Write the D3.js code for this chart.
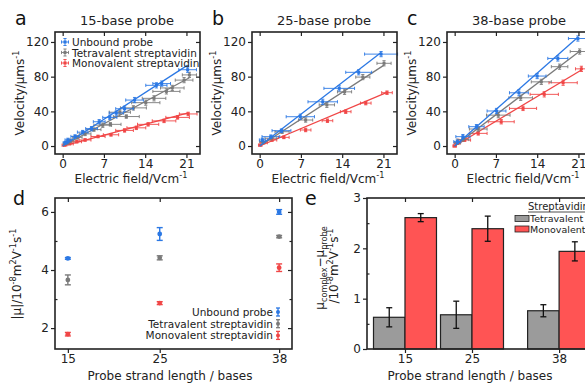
<!DOCTYPE html>
<html><head><meta charset="utf-8">
<script src="https://cdn.jsdelivr.net/npm/d3@7"></script>
<style>body{margin:0;background:#fff}svg{display:block;font-family:"DejaVu Sans",sans-serif}</style>
</head><body><svg id="fig" width="585" height="383"></svg>
<script>
// ---------- DATA ----------
const seriesNames = ["Unbound probe", "Tetravalent streptavidin", "Monovalent streptavidin"];
const probeTitles = ["15-base probe", "25-base probe", "38-base probe"];
const panelLetters = ["a", "b", "c", "d", "e"];
const fieldTicks = [0, 7, 14, 21];
const velocityTicks = [0, 40, 80, 120];
const lengthTicks = [15, 25, 38];
const mobilityTicks = [2, 4, 6];
const diffTicks = [0, 1, 2, 3];

// velocity vs field: [E (V/cm), v (um/s), Eerr, verr]
const p15Unbound = [[0.5,4,0.4,1.5],[0.9,7,0.5,2],[2.1,11,0.7,2],[3.4,16,0.9,2],[4.9,20,1.0,2.5],[6.2,28,1.0,2.5],[8.0,33,1.2,2.5],[9.1,38,1.2,2.5],[10.5,43,1.5,3],[12.2,53,1.5,3],[15.9,70,1.8,3],[16.8,72,1.5,3],[21.2,88,1.5,3]];
const p15Tetra = [[0.6,3,0.5,1.5],[1.3,6,0.6,2],[2.5,10,0.8,2],[3.8,14,1.0,2],[5.3,19,1.2,2],[6.8,24,1.5,2.5],[8.1,25,1.8,2],[9.7,39,1.8,2.5],[10.8,34,2.2,2],[12.0,44,2.2,2.5],[14.1,50,2.4,3],[15.5,55,2.0,3],[17.6,63,2.3,3],[18.6,67,2.0,3],[20.6,76,1.5,3],[21.5,82,1.2,3]];
const p15Mono = [[0.3,1,0.4,1],[1.2,2.5,0.6,1],[2.4,5,0.8,1.5],[3.8,7,1.0,1.5],[6.0,11,1.2,1.5],[8.2,13,1.3,1.5],[10.5,18,1.5,2],[12.5,21,1.6,2],[14.5,25,1.8,2],[17.2,29,2.0,2],[19.5,33,2.0,2],[21.3,37,1.5,2]];
const p25Unbound = [[0.45,7,0.5,2],[1.9,10.8,1.5,2],[3.7,17.7,1.6,2],[6.9,33.8,2.4,3],[10.7,51,2.5,3],[13.5,66.5,2.6,3],[16.8,85,2.2,3],[20.6,106,2.8,3]];
const p25Tetra = [[0.5,5,0.5,1.5],[1.9,9,1.0,2],[3.8,16.5,1.2,2],[7.8,30,1.2,2.5],[11.4,47.5,1.3,3],[14.4,62.5,1.2,3],[17.5,79.5,1.2,3],[21.1,95.4,1.2,3]];
const p25Mono = [[0.1,1,0.3,1],[0.7,3.8,0.6,1],[2.1,7,0.8,1.5],[4.1,10,0.9,1.5],[7.8,18.5,0.9,2],[11.5,29.2,0.9,2],[14.6,39.6,0.9,2],[18.0,49.5,0.9,2],[21.6,61.5,0.9,2]];
const p38Unbound = [[0.45,5,0.6,2],[1.4,10.8,1.2,2.5],[3.7,22.3,1.3,2.5],[7.1,40.4,1.6,3],[10.9,61.4,1.6,3.5],[14.0,80.7,1.5,3],[17.5,101,1.7,3],[20.9,124,1.6,3]];
const p38Tetra = [[0.5,4,0.5,2],[1.4,7.5,1.0,2],[4.0,19.6,1.5,2.5],[7.4,35.6,2.0,3],[11.2,55.6,2.0,3],[14.7,74,1.7,3],[17.8,91.5,1.4,3],[21.2,109,1.6,3]];
const p38Mono = [[0,0,0.3,1],[0.4,3,0.5,1],[1.7,6.9,1.0,1.5],[4.0,14.6,1.5,2],[7.9,28,2.2,2.5],[11.6,43.4,2.3,2.5],[15.2,59.6,2.4,3],[18.4,73,2.4,3],[21.5,89,1.0,3]];

// mobility (10^-8 m^2 V^-1 s^-1) vs probe length
const muUnbound = [4.40, 5.24, 6.00];
const muUnboundErr = [0.03, 0.22, 0.08];
const muTetra = [3.66, 4.42, 5.15];
const muTetraErr = [0.17, 0.07, 0.04];
const muMono = [1.79, 2.86, 4.08];
const muMonoErr = [0.06, 0.05, 0.13];

// mobility shift
const diffTetra = [0.63, 0.68, 0.76];
const diffTetraErr = [0.19, 0.27, 0.12];
const diffMono = [2.61, 2.39, 1.94];
const diffMonoErr = [0.08, 0.25, 0.19];
const barLegend = ["Tetravalent", "Monovalent"];

// ---------- STYLE ----------
const colBlue = "#2b78e4", colGray = "#7a7a7a", colRed = "#f04646";
const barGray = "#9b9b9b", barRed = "#ff5454";
const svg = d3.select("#fig");

function richText(g, x, y, parts, size, anchor, rotate) {
  const t = g.append("text").attr("font-size", size + "px").attr("text-anchor", anchor || "middle")
    .attr("transform", `translate(${x},${y})` + (rotate ? " rotate(-90)" : ""));
  let cur = 0;
  parts.forEach(([s, type]) => {
    const target = type === "sup" ? -0.42 * size : type === "sub" ? 0.28 * size : 0;
    const sp = t.append("tspan").text(s).attr("dy", target - cur);
    if (type !== "n") sp.attr("font-size", (size * 0.68) + "px");
    cur = target;
  });
  return t;
}

function frame(g, x, y, opts) {
  const [x0, x1] = x.range(), [y0, y1] = y.range();
  const tk = 4;
  const fmt = d3.format("~g");
  g.append("g").attr("transform", `translate(0,${y0})`)
    .call(d3.axisBottom(x).tickValues(opts.xt).tickFormat(fmt).tickSize(tk).tickSizeOuter(0).tickPadding(1.5));
  g.append("g").attr("transform", `translate(${x0},0)`)
    .call(d3.axisLeft(y).tickValues(opts.yt).tickFormat(fmt).tickSize(tk).tickSizeOuter(0).tickPadding(2));
  g.append("g").attr("transform", `translate(0,${y1})`)
    .call(d3.axisTop(x).tickValues(opts.xt).tickSize(-tk).tickSizeOuter(0).tickFormat(""));
  g.append("g").attr("transform", `translate(${x1},0)`)
    .call(d3.axisRight(y).tickValues(opts.yt).tickSize(-tk).tickSizeOuter(0).tickFormat(""));
  if (opts.ym) {
    g.append("g").attr("transform", `translate(${x0},0)`)
      .call(d3.axisLeft(y).tickValues(opts.ym).tickSize(-2.5).tickSizeOuter(0).tickFormat(""));
    g.append("g").attr("transform", `translate(${x1},0)`)
      .call(d3.axisRight(y).tickValues(opts.ym).tickSize(-2.5).tickSizeOuter(0).tickFormat(""));
  }
  g.selectAll(".domain").remove();
  g.selectAll(".tick line").attr("stroke", "#222").attr("stroke-width", 1.2);
  g.selectAll(".tick text").attr("font-size", "12px").attr("fill", "#222").attr("font-family", "DejaVu Sans");
  g.append("rect").attr("x", x0).attr("y", y1).attr("width", x1 - x0).attr("height", y0 - y1)
    .attr("fill", "none").attr("stroke", "#222").attr("stroke-width", 1.6);
}

function errPoint(g, cx, cy, xl, xr, yt, yb, color, cap, r) {
  const L = (a, b, c, d) => g.append("line").attr("x1", a).attr("y1", b).attr("x2", c).attr("y2", d).attr("stroke", color).attr("stroke-width", 0.9);
  L(xl, cy, xr, cy); L(xl, cy - cap, xl, cy + cap); L(xr, cy - cap, xr, cy + cap);
  L(cx, yt, cx, yb); L(cx - cap, yt, cx + cap, yt); L(cx - cap, yb, cx + cap, yb);
  g.append("rect").attr("x", cx - r).attr("y", cy - r).attr("width", 2 * r).attr("height", 2 * r).attr("fill", color);
}

// ---------- PANELS a-c ----------
const panelLefts = [55, 252, 447];
const velSets = [[p15Unbound, p15Tetra, p15Mono], [p25Unbound, p25Tetra, p25Mono], [p38Unbound, p38Tetra, p38Mono]];
const slopeSets = [muUnbound, muTetra, muMono];
const cols = [colBlue, colGray, colRed];

velSets.forEach((sets, i) => {
  const g = svg.append("g");
  const L = panelLefts[i];
  const x = d3.scaleLinear().domain([-1.3, 23.3]).range([L, L + 145]);
  const y = d3.scaleLinear().domain([-9.2, 131.5]).range([154, 32]);
  [2, 1, 0].forEach(k => {
    const data = sets[k];
    const c = cols[k];
    const emax = d3.max(data, d => d[0]);
    g.append("line").attr("x1", x(0)).attr("y1", y(0)).attr("x2", x(emax)).attr("y2", y(emax * slopeSets[k][i]))
      .attr("stroke", c).attr("stroke-width", 1.3);
    data.forEach(d => {
      errPoint(g, x(d[0]), y(d[1]), x(d[0] - d[2]), x(d[0] + d[2]), y(d[1] + d[3]), y(d[1] - d[3]), c, 1.6, 1.5);
    });
  });
  frame(g, x, y, {xt: fieldTicks, yt: velocityTicks});
  g.append("text").attr("x", L + 72).attr("y", 25).attr("text-anchor", "middle").attr("font-size", "13px").attr("fill", "#222").text(probeTitles[i]);
  g.append("text").attr("x", L - 40).attr("y", 25).attr("font-size", "19px").attr("fill", "#111").text(panelLetters[i]);
  richText(g, L + 76, 183, [["Electric field/Vcm", "n"], ["-1", "sup"]], 12, "middle", false).attr("fill", "#222");
  richText(g, L - 31, 93, [["Velocity/μms", "n"], ["-1", "sup"]], 12, "middle", true).attr("fill", "#222");
});

// legend in panel a
{
  const g = svg.append("g");
  seriesNames.forEach((n, k) => {
    const cy = 42 + k * 10.5;
    errPoint(g, 65, cy, 61.5, 68.5, cy - 3.5, cy + 3.5, cols[k], 1.6, 1.5);
    g.append("text").attr("x", 72).attr("y", cy + 4).attr("font-size", "10.5px").attr("fill", "#222").text(n);
  });
}

// ---------- PANEL d ----------
{
  const g = svg.append("g");
  const x = d3.scaleLinear().domain([13.6, 39.4]).range([55, 292]);
  const y = d3.scaleLinear().domain([1.28, 6.48]).range([349, 198]);
  const mus = [muUnbound, muTetra, muMono], errs = [muUnboundErr, muTetraErr, muMonoErr];
  [2, 1, 0].forEach(k => {
    lengthTicks.forEach((L, i) => {
      const v = mus[k][i], e = errs[k][i];
      const cx = x(L), cy = y(v);
      g.append("line").attr("x1", cx).attr("x2", cx).attr("y1", y(v + e)).attr("y2", y(v - e)).attr("stroke", cols[k]).attr("stroke-width", 1.4);
      [v + e, v - e].forEach(t => g.append("line").attr("x1", cx - 3).attr("x2", cx + 3).attr("y1", y(t)).attr("y2", y(t)).attr("stroke", cols[k]).attr("stroke-width", 1.4));
      g.append("circle").attr("cx", cx).attr("cy", cy).attr("r", 2.4).attr("fill", cols[k]);
    });
  });
  frame(g, x, y, {xt: lengthTicks, yt: mobilityTicks, ym: [3, 5]});
  g.append("text").attr("x", 13).attr("y", 205).attr("font-size", "19px").attr("fill", "#111").text("d");
  g.append("text").attr("x", 170).attr("y", 380).attr("text-anchor", "middle").attr("font-size", "12px").attr("fill", "#222").text("Probe strand length / bases");
  richText(g, 21, 274, [["|μ|/10", "n"], ["-8", "sup"], ["m", "n"], ["2", "sup"], ["V", "n"], ["-1", "sup"], ["s", "n"], ["-1", "sup"]], 12, "middle", true).attr("fill", "#222");
  seriesNames.forEach((n, k) => {
    const cy = 312 + k * 11.7;
    g.append("text").attr("x", 273).attr("y", cy + 4).attr("text-anchor", "end").attr("font-size", "10.5px").attr("fill", "#222").text(n);
    g.append("line").attr("x1", 278).attr("x2", 278).attr("y1", cy - 4).attr("y2", cy + 4).attr("stroke", cols[k]).attr("stroke-width", 1.3);
    [cy - 4, cy + 4].forEach(t => g.append("line").attr("x1", 276).attr("x2", 280).attr("y1", t).attr("y2", t).attr("stroke", cols[k]).attr("stroke-width", 1.3));
    g.append("circle").attr("cx", 278).attr("cy", cy).attr("r", 2).attr("fill", cols[k]);
  });
}

// ---------- PANEL e ----------
{
  const g = svg.append("g");
  const x = d3.scaleLinear().domain([9.33, 44.7]).range([367, 604]);
  const y = d3.scaleLinear().domain([0, 3]).range([349, 198]);
  const bw = 4.7;
  const sets = [[diffTetra, diffTetraErr, barGray, -1], [diffMono, diffMonoErr, barRed, 0]];
  sets.forEach(([vals, errs, fill, off]) => {
    lengthTicks.forEach((L, i) => {
      const x0 = x(L + off * bw), x1 = x(L + off * bw + bw);
      g.append("rect").attr("x", x0).attr("y", y(vals[i])).attr("width", x1 - x0).attr("height", y(0) - y(vals[i]))
        .attr("fill", fill).attr("stroke", "#222").attr("stroke-width", 1.2);
      const cx = (x0 + x1) / 2;
      g.append("line").attr("x1", cx).attr("x2", cx).attr("y1", y(vals[i] + errs[i])).attr("y2", y(vals[i] - errs[i])).attr("stroke", "#111").attr("stroke-width", 1.3);
      [vals[i] + errs[i], vals[i] - errs[i]].forEach(t => g.append("line").attr("x1", cx - 3).attr("x2", cx + 3).attr("y1", y(t)).attr("y2", y(t)).attr("stroke", "#111").attr("stroke-width", 1.3));
    });
  });
  frame(g, x, y, {xt: lengthTicks, yt: diffTicks, ym: [0.5, 1.5, 2.5]});
  g.append("text").attr("x", 305).attr("y", 205).attr("font-size", "19px").attr("fill", "#111").text("e");
  g.append("text").attr("x", 470).attr("y", 380).attr("text-anchor", "middle").attr("font-size", "12px").attr("fill", "#222").text("Probe strand length / bases");
  richText(g, 324, 268, [["μ", "n"], ["complex", "sub"], ["−μ", "n"], ["probe", "sub"]], 12, "middle", true).attr("fill", "#222");
  richText(g, 338, 266, [["/10", "n"], ["-8", "sup"], ["m", "n"], ["2", "sup"], ["V", "n"], ["-1", "sup"], ["s", "n"], ["-1", "sup"]], 12, "middle", true).attr("fill", "#222");
  // legend
  g.append("text").attr("x", 528).attr("y", 210).attr("font-size", "10px").attr("fill", "#222").text("Streptavidin");
  g.append("line").attr("x1", 528).attr("x2", 600).attr("y1", 212).attr("y2", 212).attr("stroke", "#222").attr("stroke-width", 0.8);
  [barGray, barRed].forEach((f, k) => {
    const yy = 215.5 + k * 10.5;
    g.append("rect").attr("x", 515).attr("y", yy).attr("width", 14).attr("height", 6).attr("fill", f).attr("stroke", "#222").attr("stroke-width", 0.8);
    g.append("text").attr("x", 530).attr("y", yy + 6.5).attr("font-size", "9.5px").attr("fill", "#222").text(barLegend[k]);
  });
}
</script></body></html>
